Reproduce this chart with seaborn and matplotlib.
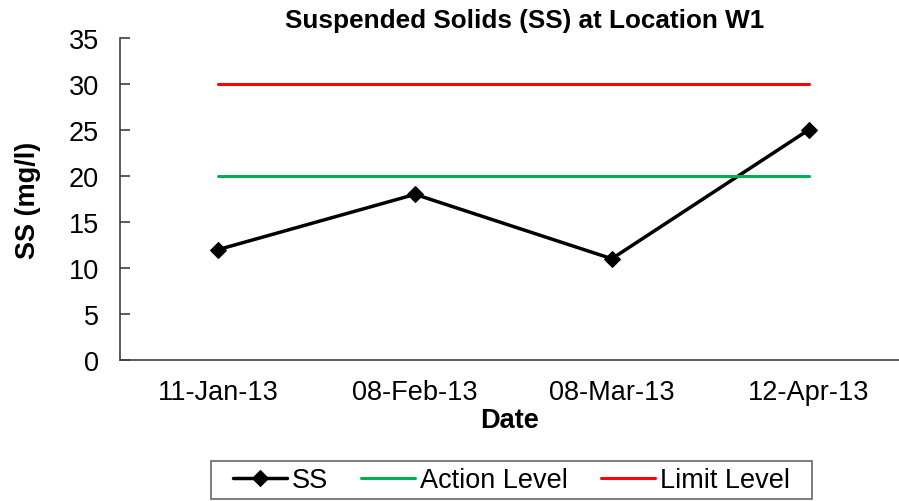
import pandas as pd
import seaborn as sns
import matplotlib.pyplot as plt

# Data
dates = ["11-Jan-13", "08-Feb-13", "08-Mar-13", "12-Apr-13"]
ss_values = [12, 18, 11, 25]
action_level = [20, 20, 20, 20]
limit_level = [30, 30, 30, 30]

df = pd.DataFrame({"Date": dates, "SS": ss_values,
                   "Action Level": action_level, "Limit Level": limit_level})

sns.set_style("white")
plt.rcParams["font.family"] = ["Liberation Sans", "DejaVu Sans"]
plt.rcParams.update({"text.color": "black", "axes.labelcolor": "black",
                     "xtick.color": "black", "ytick.color": "black"})

fig = plt.figure(figsize=(8.99, 5.02), dpi=100)
ax = fig.add_axes([0.1335, 0.281, 0.8665, 0.6414])

sns.lineplot(data=df, x="Date", y="SS", ax=ax, color="black", linewidth=2.5,
             marker="D", markersize=8, markeredgecolor="black", label="SS")
sns.lineplot(data=df, x="Date", y="Action Level", ax=ax, color="#00B050",
             linewidth=2.2, label="Action Level")
sns.lineplot(data=df, x="Date", y="Limit Level", ax=ax, color="#FF0000",
             linewidth=2.2, label="Limit Level")

ax.set_xlim(-0.5, 3.46)
ax.set_ylim(0, 35)
ax.set_yticks(range(0, 36, 5))
ax.set_xticks(range(len(dates)))
ax.set_xticklabels(dates)
ax.set_xticks([0.5, 1.5, 2.5], minor=True)
ax.tick_params(axis="x", which="major", length=0, pad=13.5, labelsize=19.5)
ax.tick_params(axis="x", which="minor", direction="in", length=6, width=1.2, color="#404040")
ax.tick_params(axis="y", direction="in", length=7, width=1.2, pad=15, labelsize=19.5,
               color="#404040", left=True)

for side in ["top", "right"]:
    ax.spines[side].set_visible(False)
for side in ["left", "bottom"]:
    ax.spines[side].set_color("#404040")
    ax.spines[side].set_linewidth(1.2)

ax.set_title("Suspended Solids (SS) at Location W1", fontsize=18.8, fontweight="bold",
             pad=8, x=0.519)
ax.set_xlabel("Date", fontsize=19.5, fontweight="bold", labelpad=1.5)
ax.set_ylabel("SS (mg/l)", fontsize=19.5, fontweight="bold", labelpad=20)

ax.get_legend().remove()
handles, labels = ax.get_legend_handles_labels()
leg = fig.legend(handles, labels, loc="center", bbox_to_anchor=(511.5 / 899, 1 - 481 / 502),
                 ncol=3, fontsize=19.5, frameon=True, fancybox=False, edgecolor="#404040",
                 handlelength=2.0, columnspacing=1.2, handletextpad=0.2, borderpad=0.15,
                 borderaxespad=0)
frame = leg.get_frame()
frame.set_linewidth(1.2)
# wider side padding than top/bottom, like the reference box
frame.set_boxstyle("square", pad=0.64)
frame.set_mutation_aspect(0.14)

fig.savefig("out.png", dpi=100)
